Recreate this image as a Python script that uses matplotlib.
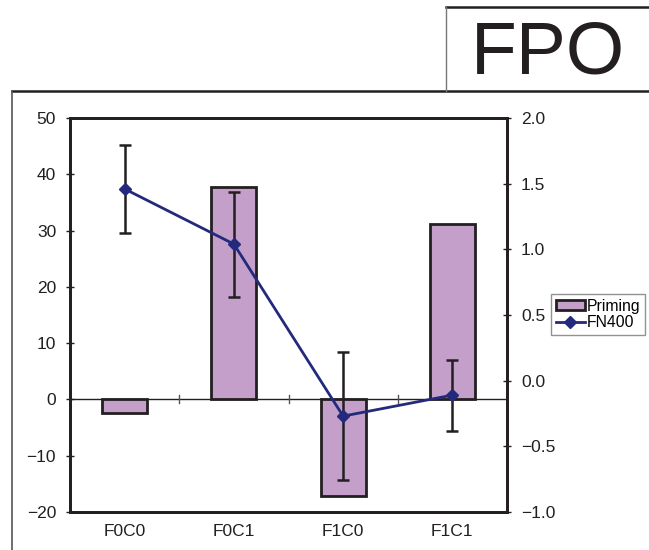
import matplotlib
matplotlib.use("Agg")
import matplotlib.pyplot as plt
import numpy as np
from matplotlib.lines import Line2D

plt.rcParams['font.family'] = ['Liberation Sans', 'DejaVu Sans']

categories = ["F0C0", "F0C1", "F1C0", "F1C1"]
priming = [-2.4, 37.8, -17.2, 31.2]
fn400 = [1.46, 1.04, -0.27, -0.11]
fn400_err = [0.335, 0.40, 0.49, 0.27]
left_ticks = [-20, -10, 0, 10, 20, 30, 40, 50]
right_ticks = [-1.0, -0.5, 0.0, 0.5, 1.0, 1.5, 2.0]

W, H = 649, 550
fig = plt.figure(figsize=(W / 100, H / 100), dpi=100)
ax = fig.add_axes([70 / W, 1 - 512 / H, (507 - 70) / W, (512 - 118) / H])

x = np.arange(len(categories))
bar_color = "#c39fca"
edge = "#231f20"
bars = ax.bar(x, priming, width=0.41, color=bar_color, edgecolor=edge,
              linewidth=2.0, label="Priming", zorder=2)
ax.axhline(0, color=edge, linewidth=1.0, zorder=1)
for b in np.arange(0.5, len(categories) - 1):
    ax.plot([b, b], [-0.7, 0.7], color="#555555", linewidth=1.0, zorder=1)

ax.set_xlim(-0.5, len(categories) - 0.5)
ax.set_ylim(left_ticks[0], left_ticks[-1])
ax.set_yticks(left_ticks)
ax.set_xticks(x)
ax.set_xticklabels(categories)
ax.tick_params(axis='x', length=0, pad=9, labelsize=12.5, colors=edge)
ax.tick_params(axis='y', direction='inout', length=6, width=1.0, pad=7,
               labelsize=12.5, colors=edge)
for s in ax.spines.values():
    s.set_linewidth(2.0)
    s.set_color(edge)

ax2 = ax.twinx()
line_color = "#232a7c"
ax2.errorbar(x, fn400, yerr=fn400_err, fmt='none', ecolor=edge,
             elinewidth=1.8, capsize=4.5, capthick=1.8, zorder=3)
ax2.plot(x, fn400, color=line_color, linewidth=2.0, marker='D',
         markersize=6.5, label="FN400", zorder=4)
ax2.set_ylim(right_ticks[0], right_ticks[-1])
ax2.set_yticks(right_ticks)
ax2.set_yticklabels([f"{t:.1f}".replace("-", "\u2212") for t in right_ticks])
ax2.tick_params(axis='y', direction='inout', length=6, width=1.0, pad=7,
                labelsize=12.5, colors=edge)
for s in ax2.spines.values():
    s.set_linewidth(2.0)
    s.set_color(edge)

handles = [bars, ax2.get_lines()[-1]]
leg = fig.legend(handles, ["Priming", "FN400"], loc='upper left',
                 bbox_to_anchor=(551 / W, 1 - 294 / H), borderaxespad=0,
                 fontsize=11.3, frameon=True, fancybox=False,
                 handlelength=1.85, handletextpad=0.15, borderpad=0.3,
                 labelspacing=0.1, handleheight=0.6)
leg.get_frame().set_edgecolor("#777777")
leg.get_frame().set_linewidth(1.0)

def fline(x0, y0, x1, y1, lw, c):
    fig.add_artist(Line2D([x0 / W, x1 / W], [1 - y0 / H, 1 - y1 / H],
                          transform=fig.transFigure, linewidth=lw, color=c))

fline(12, 91, W, 91, 1.8, "#231f20")
fline(12, 91, 12, H, 1.2, "#555555")
fline(446, 7, W, 7, 1.8, "#231f20")
fline(446, 7, 446, 91, 1.0, "#777777")

fig.text(548 / W, 1 - 74 / H, "FPO", fontsize=54, ha='center', va='baseline',
         color="#231f20")

fig.savefig("out.png", dpi=100)
